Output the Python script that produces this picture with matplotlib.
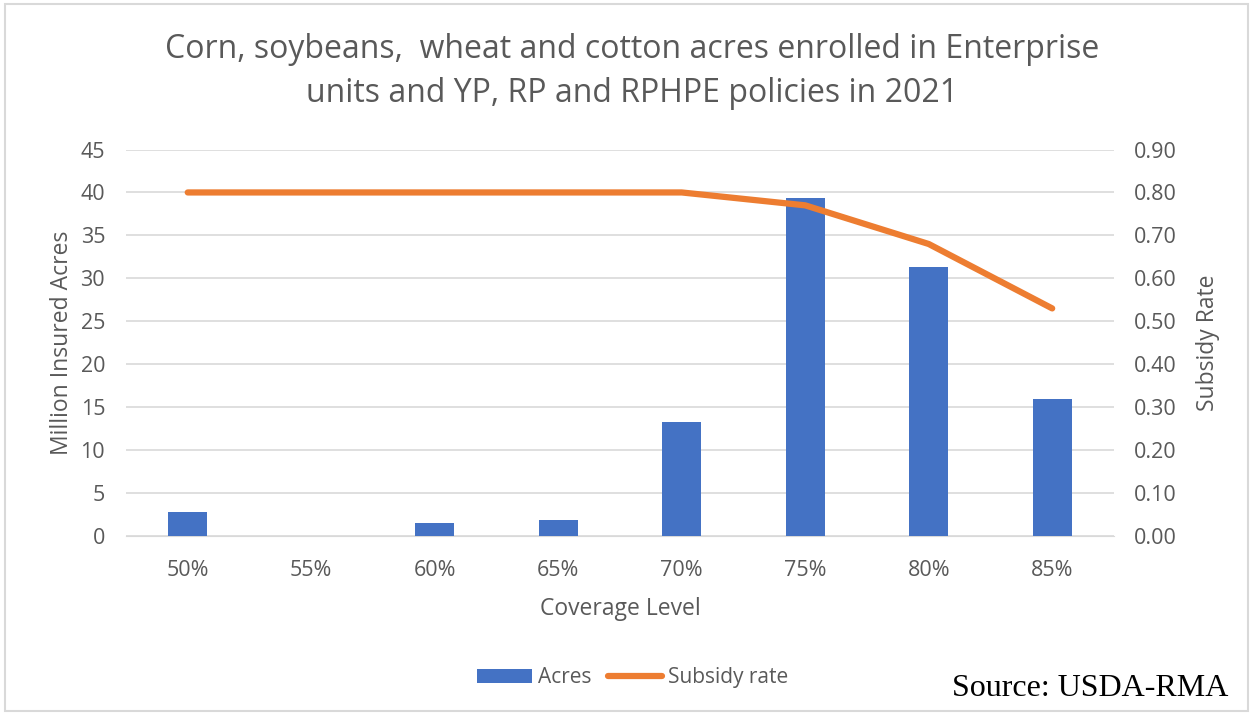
import matplotlib.pyplot as plt
from matplotlib.patches import Rectangle

# chart data
levels = ['50%', '55%', '60%', '65%', '70%', '75%', '80%', '85%']
acres = [2.8, 0.0, 1.5, 1.9, 13.3, 39.4, 31.3, 16.0]
subsidy = [0.80, 0.80, 0.80, 0.80, 0.80, 0.77, 0.68, 0.53]

plt.rcParams['font.family'] = ['Open Sans', 'DejaVu Sans']
grey = '#595959'

fig = plt.figure(figsize=(12.56, 7.15), dpi=100)
ax = fig.add_axes([0.1003, 0.2503, 0.7866, 0.5406])
ax2 = ax.twinx()

x = range(len(levels))
ax.bar(x, acres, width=0.316, color='#4472C4', label='Acres', zorder=3)
ax2.plot(x, subsidy, color='#ED7D31', lw=4.5, solid_capstyle='round', label='Subsidy rate', zorder=4)

ax.set_xlim(-0.5, len(levels) - 0.5)
ax.set_ylim(0, 45)
ax.set_yticks(range(0, 46, 5))
ax2.set_ylim(0, 0.9)
ax2.set_yticks([i / 10 for i in range(10)])
ax2.set_yticklabels(['%.2f' % (i / 10) for i in range(10)])
ax.set_xticks(list(x))
ax.set_xticklabels(levels)

ax.grid(axis='y', color='#D9D9D9', lw=1.2, zorder=0)
for a in (ax, ax2):
    for s in a.spines.values():
        s.set_visible(False)
    a.tick_params(length=0, labelsize=15.5, colors=grey)
ax.spines['bottom'].set_visible(True)
ax.spines['bottom'].set_color('#D9D9D9')
ax.tick_params(axis='x', pad=17)
ax.tick_params(axis='y', pad=15)
ax2.tick_params(axis='y', pad=14)

ax.set_ylabel('Million Insured Acres', fontsize=16.5, color=grey, labelpad=5)
ax2.set_ylabel('Subsidy Rate', fontsize=16.5, color=grey, labelpad=14)
ax.set_xlabel('Coverage Level', fontsize=16.5, color=grey, labelpad=12)

fig.text(0.503, 0.9, 'Corn, soybeans,  wheat and cotton acres enrolled in Enterprise\nunits and YP, RP and RPHPE policies in 2021',
         ha='center', va='center', fontsize=23, color=grey, linespacing=1.42)

h1, l1 = ax.get_legend_handles_labels()
h2, l2 = ax2.get_legend_handles_labels()
fig.legend(h1 + h2, l1 + l2, loc='center', bbox_to_anchor=(0.504, 0.052), ncol=2, frameon=False,
           fontsize=15, labelcolor=grey, handlelength=2.6, handletextpad=0.3, columnspacing=0.8)

fig.text(0.978, 0.037, 'Source: USDA-RMA', ha='right', va='center', fontsize=23,
         family='Liberation Serif', color='black')

fig.patches.append(Rectangle((0.004, 0.006), 0.99, 0.988, transform=fig.transFigure,
                             fill=False, edgecolor='#D9D9D9', lw=1.5))

fig.savefig('out.png', dpi=100)
